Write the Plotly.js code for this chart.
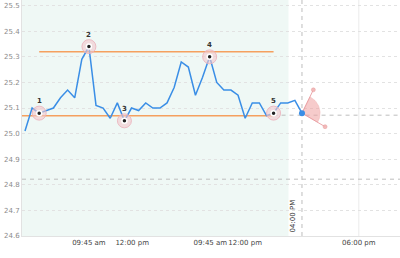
<!DOCTYPE html>
<html><head><meta charset="utf-8">
<script src="https://cdn.plot.ly/plotly-3.0.1.min.js"></script>
<style>html,body{margin:0;padding:0;background:#fff;}#chart{width:400px;height:258px;}</style>
</head><body><div id="chart"></div>
<script>
// ---- data ----
const prices = [25.01,25.10,25.08,25.09,25.10,25.14,25.17,25.14,25.29,25.34,
                25.11,25.10,25.06,25.12,25.05,25.10,25.09,25.12,25.10,25.10,
                25.12,25.18,25.28,25.26,25.15,25.22,25.30,25.20,25.17,25.17,
                25.15,25.06,25.12,25.12,25.07,25.08,25.12,25.12,25.13,25.08];
const tickPositions = [9.0, 15.1, 26.1, 31.0, 47.0];
const tickLabels = ['09:45 am','12:00 pm','09:45 am','12:00 pm','06:00 pm'];
const pivotIdx = [2, 9, 14, 26, 35];
const pivotLabels = ['1','2','3','4','5'];
const upperLevel = 25.32;
const upperSpan = [2, 35];
const lowerLevel = 25.07;
const lowerSpan = [-0.42, 35];
const crossLevel = 24.822;
const lastLevel = 25.072;
const lastLevelStart = 35;
const shadedSpan = [-0.42, 37.1];
const cursorLabel = '04:00 PM';
const fanEndX = [40.6, 42.25];
const fanEndY = [25.171, 25.027];

// ---- layout constants ----
const W = 400, H = 258, M = {l:22, r:0, t:0, b:22};
const xRange = [-0.42, 52.8], yRange = [24.6, 25.522];
const pxX = (W - M.l - M.r) / (xRange[1] - xRange[0]);
const pxY = (H - M.t - M.b) / (yRange[1] - yRange[0]);

const idx = prices.map((_, i) => i);
const lastI = prices.length - 1;
const cx = idx[lastI], cy = prices[lastI];

// fan sector
const angles = fanEndX.map((ex, k) => Math.atan2((fanEndY[k]-cy)*pxY, (ex-cx)*pxX));
const lens = fanEndX.map((ex, k) => Math.hypot((fanEndY[k]-cy)*pxY, (ex-cx)*pxX));
const r = 0.7 * Math.min(...lens);
const sx = [cx], sy = [cy];
const N = 24;
for (let k = 0; k <= N; k++) {
  const t = angles[0] + (angles[1]-angles[0]) * k / N;
  sx.push(cx + r*Math.cos(t)/pxX);
  sy.push(cy + r*Math.sin(t)/pxY);
}
sx.push(cx); sy.push(cy);

const rayX = [cx, fanEndX[0], null, cx, fanEndX[1]];
const rayY = [cy, fanEndY[0], null, cy, fanEndY[1]];

const traces = [
  {x: sx, y: sy, mode: 'lines', fill: 'toself', fillcolor: 'rgba(238,160,160,0.55)',
   line: {color: 'rgba(235,160,160,0.6)', width: 0.5}, hoverinfo: 'skip'},
  {x: rayX, y: rayY, mode: 'lines', line: {color: 'rgba(232,150,155,0.85)', width: 1}, hoverinfo: 'skip'},
  {x: fanEndX, y: fanEndY, mode: 'markers', marker: {size: 4, color: 'rgba(240,180,180,0.9)', line:{color:'rgba(230,150,150,0.9)', width:0.5}}},
  {x: idx, y: prices, mode: 'lines', line: {color: '#3a8ee6', width: 1.5}},
  {x: [cx], y: [cy], mode: 'markers', marker: {size: 6, color: '#3a8ee6'}},
  {x: pivotIdx.map(i => idx[i]), y: pivotIdx.map(i => prices[i]), mode: 'markers',
   marker: {size: 14, color: 'rgba(242,200,205,0.6)', line: {color: 'rgba(235,175,185,0.8)', width: 1}}},
  {x: pivotIdx.map(i => idx[i]), y: pivotIdx.map(i => prices[i]), mode: 'markers',
   marker: {size: 5, color: '#222', line: {color: '#fff', width: 1.5}}}
];

const dashGray = {color: '#bdbdbd', width: 1, dash: '4px,4px'};
const orange = {color: 'rgb(245,160,95)', width: 1.5};
const shapes = [
  {type:'rect', xref:'x', yref:'paper', x0: shadedSpan[0], x1: shadedSpan[1], y0:0, y1:1,
   fillcolor:'#eff8f5', line:{width:0}, layer:'below'},
  {type:'line', xref:'x', yref:'paper', x0: tickPositions[4], x1: tickPositions[4], y0:0, y1:1,
   line:{color:'#ececec', width:1}, layer:'below'},
  {type:'line', xref:'x', yref:'paper', x0: cx, x1: cx, y0:0, y1:1, line: dashGray, layer:'below'},
  {type:'line', xref:'paper', yref:'y', x0: 0, x1: 1, y0: crossLevel, y1: crossLevel, line: dashGray, layer:'below'},
  {type:'line', xref:'x', yref:'y', x0: lastLevelStart, x1: xRange[1], y0: lastLevel, y1: lastLevel, line: dashGray, layer:'below'},
  {type:'line', xref:'x', yref:'y', x0: upperSpan[0], x1: upperSpan[1], y0: upperLevel, y1: upperLevel, line: orange, layer:'below'},
  {type:'line', xref:'x', yref:'y', x0: lowerSpan[0], x1: lowerSpan[1], y0: lowerLevel, y1: lowerLevel, line: orange, layer:'below'}
];

const annotations = pivotIdx.map((i, k) => ({
  x: idx[i], y: prices[i], text: '<b>' + pivotLabels[k] + '</b>', showarrow: false, yshift: 12,
  font: {family: 'DejaVu Sans', size: 7, color: '#333'}
}));
annotations.push({
  x: cx, y: 0, xref: 'x', yref: 'paper', text: cursorLabel, showarrow: false,
  textangle: -90, xanchor: 'right', yanchor: 'bottom', xshift: -3, yshift: 2,
  font: {family: 'DejaVu Sans', size: 7, color: '#333'}
});

const layout = {
  width: W, height: H, margin: M, showlegend: false,
  paper_bgcolor: '#fff', plot_bgcolor: '#fff',
  xaxis: {range: xRange, tickmode: 'array', tickvals: tickPositions, ticktext: tickLabels,
          tickangle: 0, automargin: false,
          showgrid: false, zeroline: false, showline: true, linecolor: '#e2e2e2', linewidth: 1, ticks: '',
          tickfont: {family: 'DejaVu Sans', size: 7, color: '#444'}},
  yaxis: {range: yRange, tick0: 24.6, dtick: 0.1, tickformat: '.1f', automargin: false,
          showgrid: true, gridcolor: '#e2e2e2', griddash: 'dot', zeroline: false,
          showline: true, linecolor: '#e2e2e2', linewidth: 1, ticks: '',
          tickfont: {family: 'DejaVu Sans', size: 7, color: '#8a8a8a'}},
  shapes: shapes, annotations: annotations
};

Plotly.newPlot('chart', traces, layout, {staticPlot: true, displayModeBar: false});
</script></body></html>
